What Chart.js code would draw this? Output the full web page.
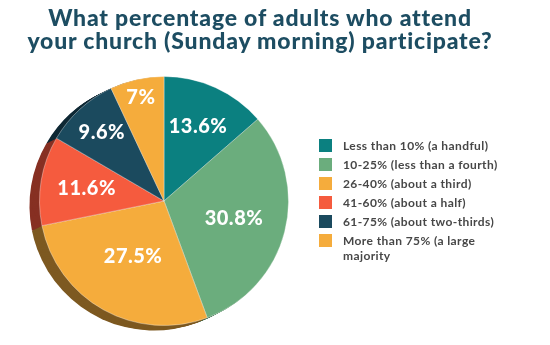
<!DOCTYPE html>
<html><head><meta charset="utf-8">
<script src="https://cdn.jsdelivr.net/npm/chart.js@4.4.0/dist/chart.umd.min.js"></script>
<style>
html,body{margin:0;padding:0;background:#fff;}
#wrap{position:relative;width:550px;height:345px;overflow:hidden;background:#fff;}
#c{position:absolute;left:0;top:0;}
#title{position:absolute;left:0;width:520px;top:6px;text-align:center;font-family:Lato,"DejaVu Sans",sans-serif;font-weight:900;font-size:23px;letter-spacing:0.8px;line-height:23px;color:#1d4d62;}
#legend{position:absolute;left:319px;top:138px;width:210px;font-family:Lato,"DejaVu Sans",sans-serif;font-weight:700;font-size:12px;letter-spacing:0.4px;line-height:15px;color:#474747;}
.row{display:flex;align-items:flex-start;margin-bottom:4px;}
.sw{width:13px;height:13px;flex:none;margin-right:11px;margin-top:1px;}
.tx{width:165px;}
</style></head>
<body>
<div id="wrap">
<canvas id="c" width="550" height="345"></canvas>
<div id="title"></div>
<div id="legend"></div>
</div>
<script>
const titleLines = ['What percentage of adults who attend', 'your church (Sunday morning) participate?'];
const categories = ['Less than 10% (a handful)', '10-25% (less than a fourth)', '26-40% (about a third)', '41-60% (about a half)', '61-75% (about two-thirds)', 'More than 75% (a large majority'];
const values = [13.6, 30.8, 27.5, 11.6, 9.6, 7];
const valueLabels = ['13.6%', '30.8%', '27.5%', '11.6%', '9.6%', '7%'];

const sliceColors = ['#0b8080', '#6bad7d', '#f5ac3c', '#f55b3e', '#1b4a5e', '#f5ac3c'];
const depthColors = ['#0a4a4a', '#3f6b4c', '#7d5921', '#873023', '#0e2834', '#7d5921'];
const labelRadius = [0.66, 0.58, 0.51, 0.63, 0.74, 0.85];

document.getElementById('title').innerHTML = titleLines.map(t => '<div>' + t + '</div>').join('');

const depthPlugin = {
  id: 'depth',
  beforeDatasetsDraw(chart, args, opts) {
    const ctx = chart.ctx;
    const meta = chart.getDatasetMeta(0);
    ctx.save();
    for (let i = opts.steps; i >= 1; i--) {
      const dx = opts.dx * i / opts.steps, dy = opts.dy * i / opts.steps;
      meta.data.forEach((arc, k) => {
        const p = arc.getProps(['x', 'y', 'startAngle', 'endAngle', 'outerRadius'], true);
        ctx.beginPath();
        ctx.moveTo(p.x + dx, p.y + dy);
        ctx.arc(p.x + dx, p.y + dy, p.outerRadius, p.startAngle, p.endAngle);
        ctx.closePath();
        ctx.fillStyle = opts.colors[k];
        ctx.fill();
      });
    }
    ctx.restore();
  }
};

const labelPlugin = {
  id: 'sliceLabels',
  afterDatasetsDraw(chart, args, opts) {
    const ctx = chart.ctx;
    const meta = chart.getDatasetMeta(0);
    ctx.save();
    ctx.font = opts.font;
    if ('letterSpacing' in ctx) ctx.letterSpacing = opts.spacing;
    ctx.fillStyle = opts.color;
    ctx.textAlign = 'center';
    ctx.textBaseline = 'middle';
    meta.data.forEach((arc, k) => {
      const p = arc.getProps(['x', 'y', 'startAngle', 'endAngle', 'outerRadius'], true);
      const a = (p.startAngle + p.endAngle) / 2;
      const r = p.outerRadius * opts.radius[k];
      ctx.fillText(opts.labels[k], p.x + Math.cos(a) * r, p.y + Math.sin(a) * r);
    });
    ctx.restore();
  }
};

const chart = new Chart(document.getElementById('c'), {
  type: 'pie',
  data: {
    labels: categories,
    datasets: [{
      data: values,
      backgroundColor: sliceColors,
      borderColor: 'rgba(255,255,255,0.35)',
      borderWidth: 1
    }]
  },
  options: {
    responsive: false,
    animation: false,
    layout: { padding: { top: 76, left: 39, right: 261, bottom: 19 } },
    plugins: {
      legend: { display: false },
      tooltip: { enabled: false },
      depth: { dx: -10, dy: 5, steps: 12, colors: depthColors },
      sliceLabels: { labels: valueLabels, radius: labelRadius, font: '900 20px Lato', spacing: '0.5px', color: '#ffffff' }
    }
  },
  plugins: [depthPlugin, labelPlugin]
});

const items = Chart.overrides.pie.plugins.legend.labels.generateLabels(chart);
document.getElementById('legend').innerHTML = items.map(it =>
  '<div class="row"><div class="sw" style="background:' + it.fillStyle + '"></div><div class="tx">' + it.text + '</div></div>'
).join('');
</script>
</body></html>
